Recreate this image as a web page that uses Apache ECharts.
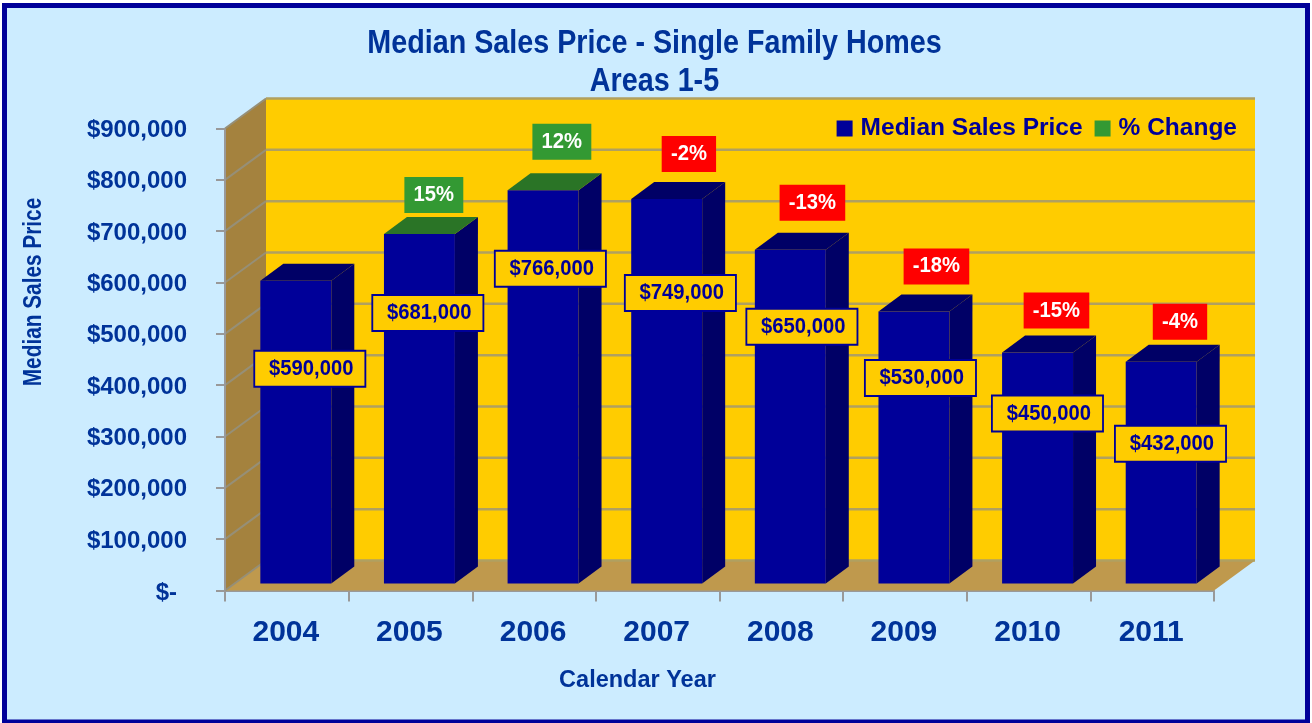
<!DOCTYPE html>
<html>
<head>
<meta charset="utf-8">
<title>Median Sales Price</title>
<script src="https://cdn.jsdelivr.net/npm/echarts@6/dist/echarts.min.js"></script>
<style>
  html, body { margin: 0; padding: 0; background: #fff; }
  #chart { width: 1312px; height: 723px; }
</style>
</head>
<body>
<div id="chart"></div>
<script>
const years = ["2004", "2005", "2006", "2007", "2008", "2009", "2010", "2011"];
const medianPrice = [590000, 681000, 766000, 749000, 650000, 530000, 450000, 432000];
const pctChange = [null, 15, 12, -2, -13, -18, -15, -4];
const yTicks = [0, 100000, 200000, 300000, 400000, 500000, 600000, 700000, 800000, 900000];

// where the call-out boxes sit, pixels from the front top centre of each bar
const priceBoxShift = [[14, 88], [8.4, 79], [7.3, 78.5], [13.7, 94], [11.6, 77], [6.5, 66.5], [9.9, 61], [9.3, 82]];
const pctBoxShift = [null, [14.4, -39], [18.8, -48.5], [22.2, -45], [22.1, -47], [22.5, -45], [18.9, -42], [18.8, -40]];

// 3D look of the old chart
const DEPTH_X = 41;
const DEPTH_Y = 30;
const BAR_SHIFT_X = 9;   // bars stand a bit behind the front edge
const BAR_SHIFT_Y = 7;
const BAR_DEPTH_X = 23;
const BAR_DEPTH_Y = 17;
const BAR_RATIO = 0.574;

const BLUE_TEXT = "#003399";
const NAVY = "#000099";
const NAVY_SIDE = "#000066";
const GREEN = "#339933";
const GREEN_TOP = "#2A7426";
const RED = "#FF0000";
const YELLOW = "#FFCC00";
const FONT = '"Liberation Sans", Arial, sans-serif';

function poly(points, fill) {
  return {
    type: "polygon",
    shape: { points: points },
    style: { fill: fill, lineWidth: 0 },
  };
}

function line(x1, y1, x2, y2, color, width) {
  return {
    type: "line",
    shape: { x1: x1, y1: y1, x2: x2, y2: y2 },
    style: { stroke: color, lineWidth: width },
  };
}

// side wall, back wall, floor and grid lines, all taken from the axis scale
function renderWalls(params, api) {
  const c = params.coordSys;
  const left = c.x, right = c.x + c.width, bottom = c.y + c.height, top = c.y;
  const kids = [
    poly([[left + DEPTH_X, top - DEPTH_Y], [right + DEPTH_X, top - DEPTH_Y], [right + DEPTH_X, bottom - DEPTH_Y], [left + DEPTH_X, bottom - DEPTH_Y]], YELLOW),
    poly([[left, top], [left + DEPTH_X, top - DEPTH_Y], [left + DEPTH_X, bottom - DEPTH_Y], [left, bottom]], "#A4823E"),
    poly([[left, bottom], [left + DEPTH_X, bottom - DEPTH_Y], [right + DEPTH_X, bottom - DEPTH_Y], [right, bottom]], "#BF994D"),
  ];
  yTicks.forEach((t) => {
    const y = api.coord([0, t])[1];
    kids.push(line(left, y, left + DEPTH_X, y - DEPTH_Y, "#968F77", 2));
    kids.push(line(left + DEPTH_X, y - DEPTH_Y, right + DEPTH_X, y - DEPTH_Y, "#B0A060", 2.5));
  });
  kids.push(line(left, top, left, bottom, "#999999", 2));
  return { type: "group", children: kids };
}

function renderBar(params, api) {
  const i = api.value(0);
  const v = api.value(1);
  const band = api.size([1, 0])[0];
  const w = band * BAR_RATIO;
  const base = api.coord([i, 0]);
  const topPt = api.coord([i, v]);
  const x0 = base[0] + BAR_SHIFT_X - w / 2;
  const x1 = x0 + w;
  const yb = base[1] - BAR_SHIFT_Y;
  const yt = topPt[1] - BAR_SHIFT_Y;
  const dx = BAR_DEPTH_X, dy = BAR_DEPTH_Y;
  const rising = pctChange[i] !== null && pctChange[i] > 0;
  return {
    type: "group",
    children: [
      poly([[x1, yt], [x1 + dx, yt - dy], [x1 + dx, yb - dy], [x1, yb]], NAVY_SIDE),
      poly([[x0, yt], [x0 + dx, yt - dy], [x1 + dx, yt - dy], [x1, yt]], rising ? GREEN_TOP : NAVY_SIDE),
      poly([[x0, yt], [x1, yt], [x1, yb], [x0, yb]], api.visual("color")),
    ],
  };
}

function boxText(x, y, text, fill, color, border) {
  return {
    type: "text",
    x: x,
    y: y,
    scaleX: 0.92,  // the original lettering is slightly condensed
    z2: 50,
    style: {
      text: text,
      x: 0,
      y: 0,
      align: "center",
      verticalAlign: "middle",
      fontFamily: FONT,
      fontWeight: "bold",
      fontSize: 22,
      fill: color,
      backgroundColor: fill,
      borderColor: border || null,
      borderWidth: border ? 2 : 0,
      padding: border ? [6, 12, 6, 15] : [7, 10, 7, 10],
    },
  };
}

function renderPriceBox(params, api) {
  const i = api.value(0);
  const p = api.coord([i, api.value(1)]);
  const s = priceBoxShift[i];
  return boxText(p[0] + BAR_SHIFT_X + s[0], p[1] - BAR_SHIFT_Y + s[1], "$" + api.value(1).toLocaleString("en-US"), YELLOW, NAVY, NAVY);
}

function renderPctBox(params, api) {
  const i = api.value(0);
  const pct = pctChange[i];
  if (pct === null) return null;
  const p = api.coord([i, medianPrice[i]]);
  const s = pctBoxShift[i];
  return boxText(p[0] + BAR_SHIFT_X + s[0], p[1] - BAR_SHIFT_Y + s[1], pct + "%", pct > 0 ? GREEN : RED, "#FFFFFF");
}

const yLabelStyle = { color: BLUE_TEXT, fontFamily: FONT, fontWeight: "bold", fontSize: 24 };

let myChart = echarts.init(document.getElementById("chart"), null, { renderer: "canvas" });

myChart.setOption({
  backgroundColor: "#FFFFFF",
  animation: false,
  graphic: [
    // the panel and its thick border
    {
      type: "rect",
      z: -10,
      shape: { x: 4.5, y: 5.5, width: 1303, height: 716.5 },
      style: { fill: "#CCECFF", stroke: NAVY, lineWidth: 5 },
    },
    // title and y name are squeezed in the original, title component can't do that
    {
      type: "text",
      z: 10,
      x: 654.5,
      y: 63,
      scaleX: 0.87,
      style: {
        text: "Median Sales Price - Single Family Homes\nAreas 1-5",
        align: "center",
        verticalAlign: "middle",
        fill: BLUE_TEXT,
        fontFamily: FONT,
        fontWeight: "bold",
        fontSize: 33,
        lineHeight: 38,
      },
    },
    {
      type: "text",
      z: 10,
      x: 34,
      y: 292,
      rotation: Math.PI / 2,
      scaleX: 0.8,
      style: {
        text: "Median Sales Price",
        align: "center",
        verticalAlign: "middle",
        fill: BLUE_TEXT,
        fontFamily: FONT,
        fontWeight: "bold",
        fontSize: 26,
      },
    },
  ],
  legend: {
    right: 70,
    top: 111,
    itemWidth: 16,
    itemHeight: 16,
    itemGap: 12,
    icon: "rect",
    data: ["Median Sales Price", "% Change"],
    textStyle: { color: NAVY, fontFamily: FONT, fontWeight: "bold", fontSize: 24.5, padding: [0, 0, 0, 3] },
  },
  grid: { left: 225, right: 98, top: 128.5, bottom: 132.5 },
  xAxis: {
    type: "category",
    data: years,
    name: "Calendar Year",
    nameLocation: "middle",
    nameGap: 78,
    nameTextStyle: { color: BLUE_TEXT, fontFamily: FONT, fontWeight: "bold", fontSize: 23.5, padding: [0, 164, 0, 0] },
    axisLine: { show: true, lineStyle: { color: "#999999", width: 2 } },
    axisTick: { show: true, length: 11, alignWithLabel: false, lineStyle: { color: "#999999", width: 2 } },
    axisLabel: { color: BLUE_TEXT, fontFamily: FONT, fontWeight: "bold", fontSize: 30, margin: 27, padding: [0, 2, 0, 0] },
    splitLine: { show: false },
  },
  yAxis: {
    type: "value",
    min: 0,
    max: 900000,
    interval: 100000,
    axisLine: { show: false },
    axisTick: { show: true, length: 9, lineStyle: { color: "#999999", width: 2 } },
    axisLabel: {
      ...yLabelStyle,
      margin: 38,
      formatter: (v) => (v === 0 ? "{zero|$-}" : "{money|$" + v.toLocaleString("en-US") + "}"),
      rich: {
        money: { ...yLabelStyle, padding: [4, 0, 0, 0] },
        zero: { ...yLabelStyle, padding: [6, 10, 0, 0] },
      },
    },
    splitLine: { show: false },
  },
  series: [
    {
      name: "walls",
      type: "custom",
      coordinateSystem: "cartesian2d",
      clip: false,
      silent: true,
      z: 1,
      renderItem: renderWalls,
      data: [[0, 0]],
      encode: { x: 0, y: 1 },
    },
    {
      name: "Median Sales Price",
      type: "custom",
      coordinateSystem: "cartesian2d",
      clip: false,
      z: 3,
      itemStyle: { color: NAVY },
      renderItem: renderBar,
      data: medianPrice.map((v, i) => [i, v]),
      encode: { x: 0, y: 1 },
    },
    {
      name: "% Change",
      type: "custom",
      coordinateSystem: "cartesian2d",
      clip: false,
      z: 5,
      itemStyle: { color: GREEN },
      renderItem: renderPctBox,
      data: medianPrice.map((v, i) => [i, v]),
      encode: { x: 0, y: 1 },
    },
    {
      name: "price labels",
      type: "custom",
      coordinateSystem: "cartesian2d",
      clip: false,
      z: 6,
      renderItem: renderPriceBox,
      data: medianPrice.map((v, i) => [i, v]),
      encode: { x: 0, y: 1 },
    },
  ],
});
</script>
</body>
</html>
